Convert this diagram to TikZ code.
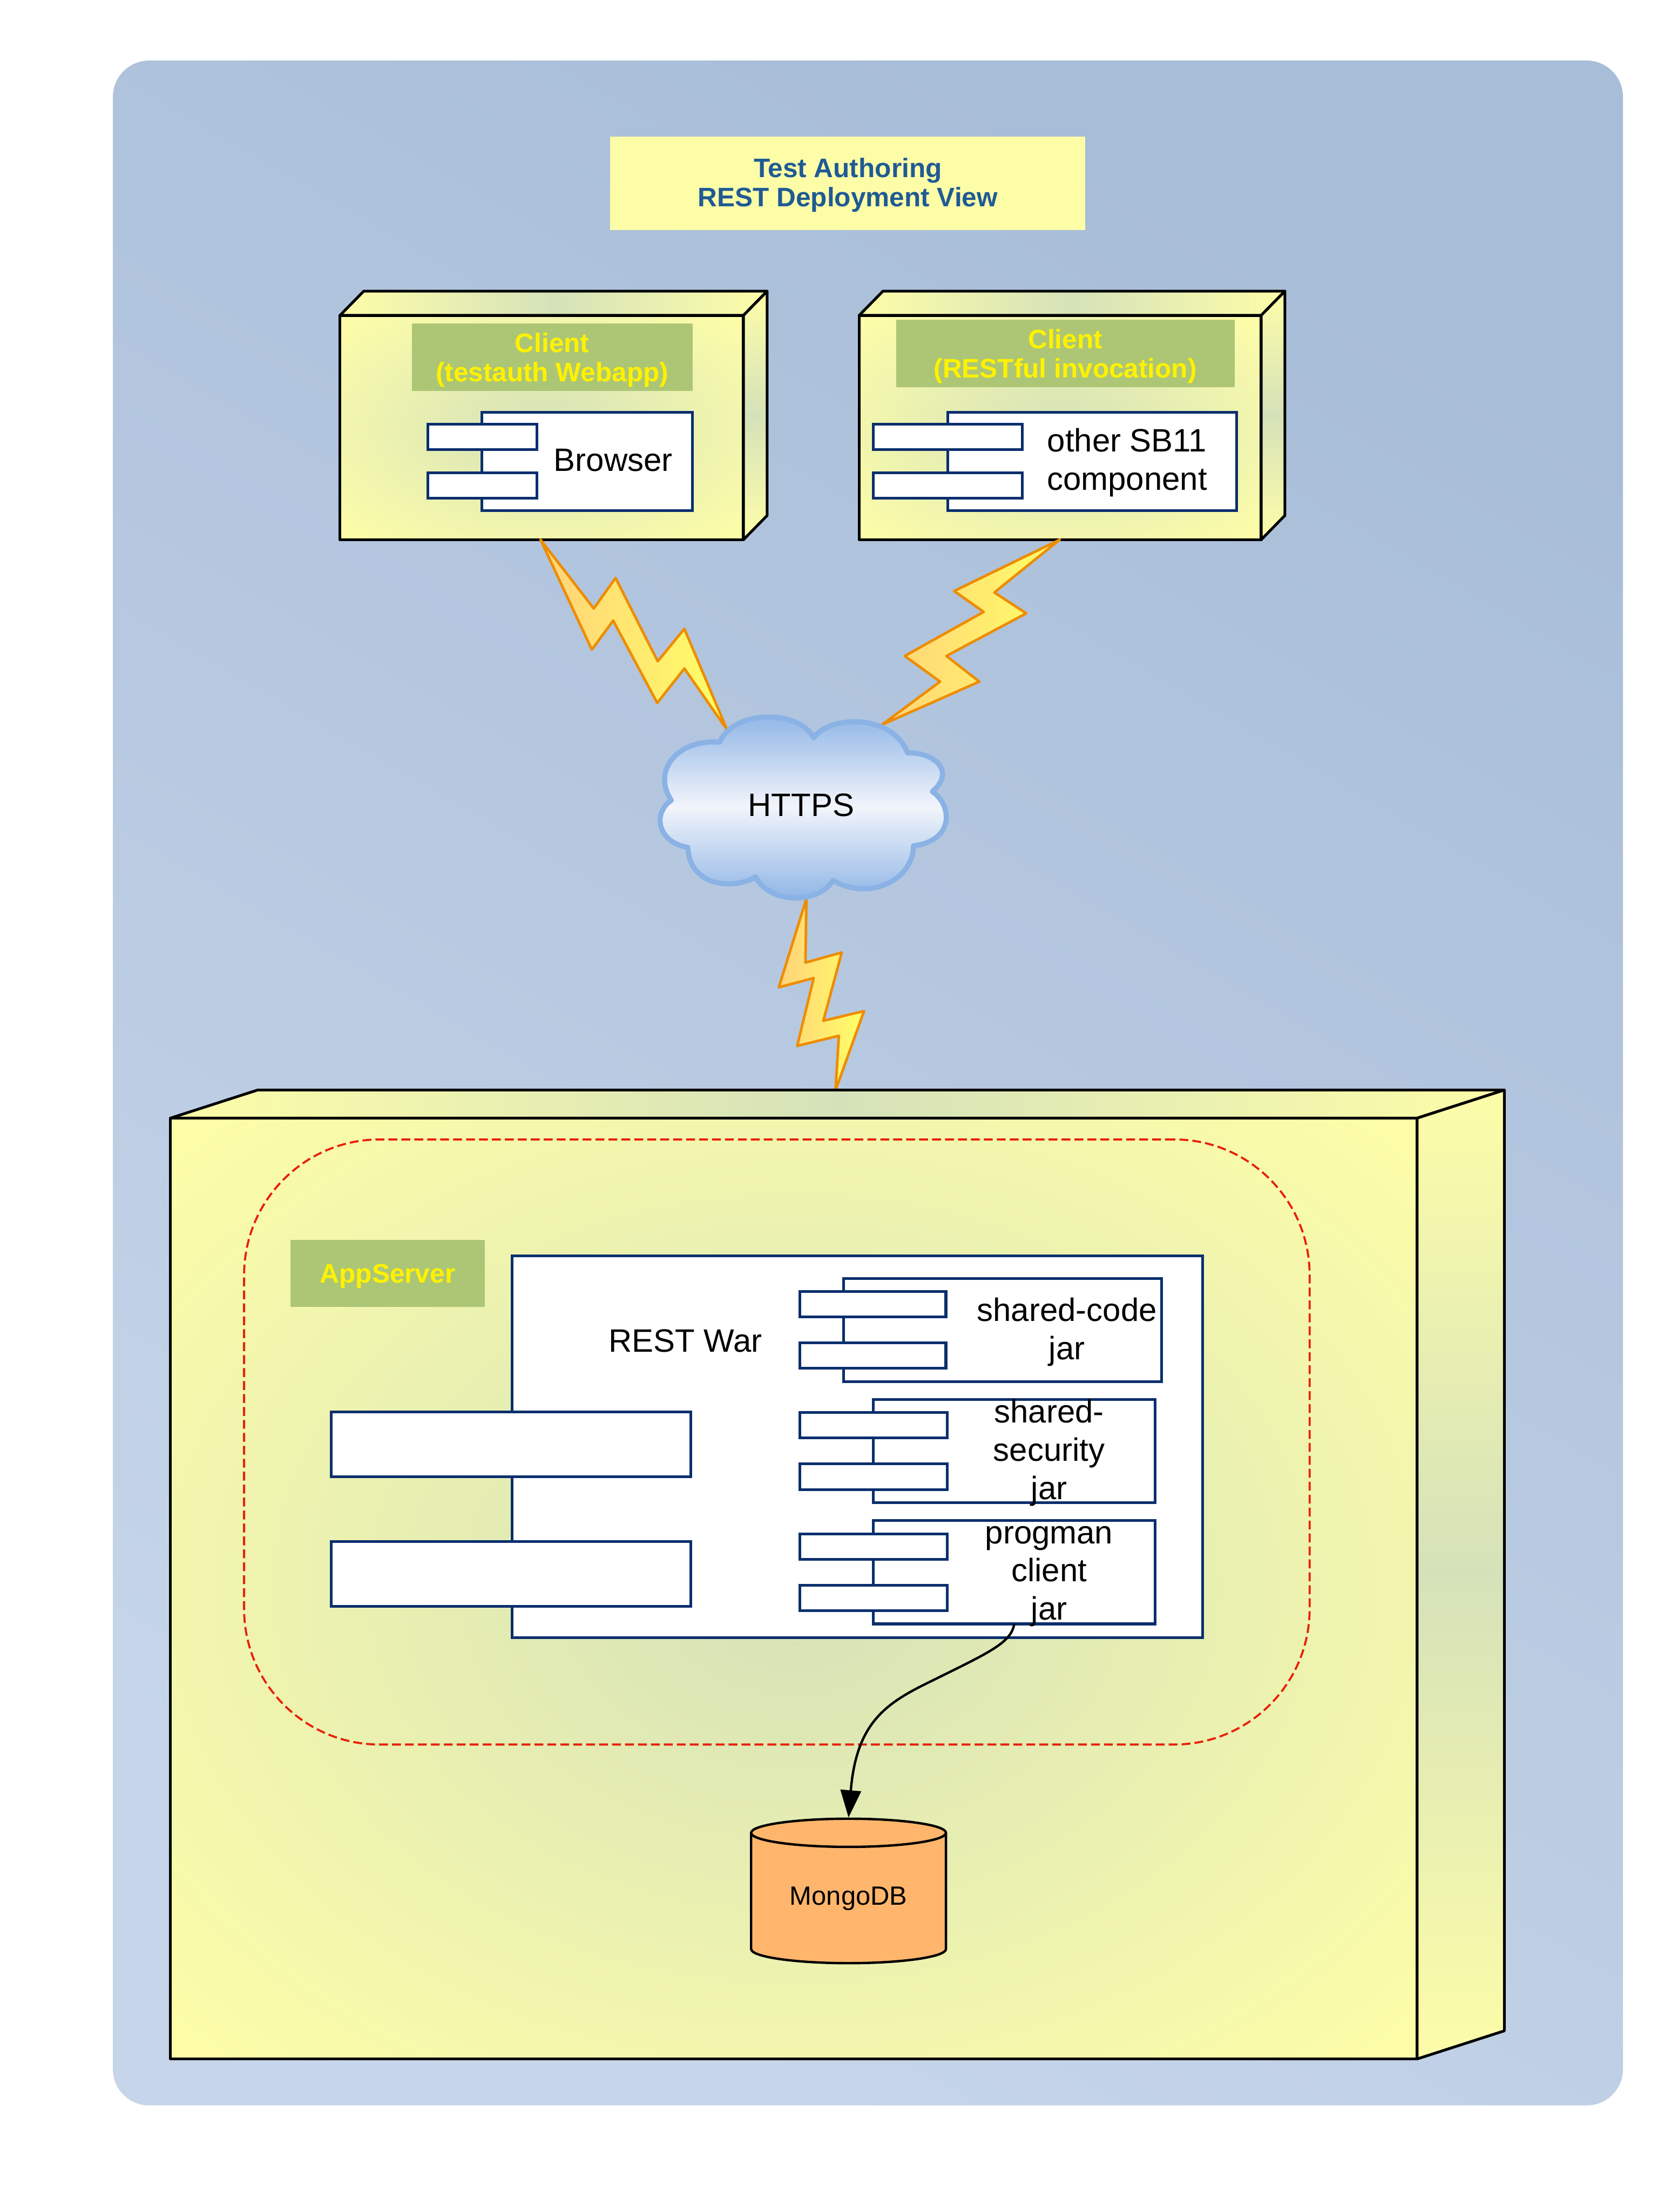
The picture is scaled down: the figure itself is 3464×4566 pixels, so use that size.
\documentclass[tikz,border=0pt]{standalone}
\usepackage{xcolor}
\usepackage{fontspec}
\setmainfont{Liberation Sans}
\usepackage{tikz}
\usetikzlibrary{calc, fit, shapes.geometric, arrows.meta}
\definecolor{panellight}{HTML}{C6D5E9}
\definecolor{paneldark}{HTML}{A8BDD8}
\definecolor{nodeyellow}{HTML}{FDFDA8}
\definecolor{nodegreen}{HTML}{D5E2B9}
\definecolor{labelgreen}{HTML}{ADC675}
\definecolor{titleblue}{HTML}{1F5A94}
\definecolor{boxnavy}{HTML}{0B2F6D}
\definecolor{boltedge}{HTML}{EE8C00}
\definecolor{boltorange}{HTML}{FFD27A}
\definecolor{boltyellow}{HTML}{FFFF66}
\definecolor{cloudedge}{HTML}{8AB2E5}
\definecolor{cloudmid}{HTML}{F2F5FB}
\definecolor{dashred}{HTML}{E8200A}
\definecolor{dborange}{HTML}{FFB66C}
\newcommand{\fsBody}{\fontsize{19}{22.5}\selectfont}
\newcommand{\fsLabel}{\fontsize{15.7}{17.2}\selectfont\bfseries}
\newcommand{\fsDb}{\fontsize{15.5}{18}\selectfont}
\pgfdeclareradialshading{nodeglow}{\pgfpointorigin}{%
  color(0bp)=(nodegreen); color(34bp)=(nodeyellow); color(50bp)=(nodeyellow)}
\tikzset{
  fitbox/.style={inner sep=0pt, outer sep=0pt},
  panelbox/.style={fitbox, rounded corners=0.75cm, bottom color=panellight, top color=paneldark, shading angle=-30},
  titlebox/.style={fitbox, fill=nodeyellow},
  tagbox/.style={fitbox, fill=labelgreen},
  titletext/.style={font=\fsLabel, text=titleblue, align=center, inner sep=0pt, yshift=-1pt},
  tagtext/.style={font=\fsLabel, text=yellow, align=center, inner sep=0pt, yshift=-1.7pt},
  facebox/.style={fitbox, draw=black, line width=1.6pt, line join=round, shading=nodeglow},
  topface/.style={draw=black, line width=1.6pt, line join=round, left color=nodeyellow, right color=nodeyellow, middle color=nodegreen},
  sideface/.style={draw=black, line width=1.6pt, line join=round, top color=nodeyellow, bottom color=nodeyellow, middle color=nodegreen},
  compbox/.style={fitbox, draw=boxnavy, fill=white, line width=1.6pt},
  bodytext/.style={font=\fsBody, text=black, align=center, inner sep=0pt},
  bolt/.style={draw=boltedge, line width=1.5pt, line join=round, left color=boltorange, right color=boltyellow},
  serverzone/.style={fitbox, draw=dashred, line width=1.2pt, rounded corners=2.8cm, dash pattern=on 5.2pt off 2.4pt},
  dbarrow/.style={draw=black, line width=1.4pt, -{Triangle[length=16pt, width=12pt]}},
}
\begin{document}
\begin{tikzpicture}[x=0.01cm, y=-0.01cm]
  \useasboundingbox (0,0) rectangle (3464,4566);
  \def\TabH{52.5}
  \newcommand{\deployNode}[7]{%
    \node[facebox, fit={(#2,#3) (#4,#5)}] (#1) {};
    \path[topface] (#1.north west) -- ++(#6,-#7) -- ++($(#4,0)-(#2,0)$) -- (#1.north east) -- cycle;
    \path[sideface] (#1.north east) -- ++(#6,-#7) -- ++($(0,#5)-(0,#3)$) -- (#1.south east) -- cycle;
  }
  \newcommand{\compBox}[9]{%
    \node[compbox, fit={(#2,#3) (#4,#5)}] (#1) {};
    \node[compbox, fit={(#6,#8) (#7,#8+\TabH)}] (#1TabA) {};
    \node[compbox, fit={(#6,#9) (#7,#9+\TabH)}] (#1TabB) {};
  }

  \node[panelbox, fit={(233,125) (3351,4346)}] (panel) {};
  \node[titlebox, fit={(1260,282) (2241,475)}] (title) {};
  \node[titletext] (titleText) at (title) {Test Authoring\\REST Deployment View};

  \deployNode{clientWeb}{702}{651}{1535}{1114}{49}{50}
  \deployNode{clientRest}{1774}{651}{2604}{1114}{49}{50}
  \node[tagbox, fit={(850,668) (1430,807)}] (clientWebTag) {};
  \node[tagtext] (clientWebText) at (clientWebTag) {Client\\(testauth Webapp)};
  \node[tagbox, fit={(1850,660) (2549,799)}] (clientRestTag) {};
  \node[tagtext] (clientRestText) at (clientRestTag) {Client\\(RESTful invocation)};
  \compBox{browser}{995}{851}{1430}{1054}{883}{1109}{876}{976}
  \compBox{otherComp}{1957}{851}{2553}{1054}{1803}{2111}{876}{976}
  \node[bodytext] (browserText) at (1266,950) {Browser};
  \node[bodytext] (otherCompText) at (2327,955) {other SB11\\component};

  \path[bolt] (1116,1114) -- (1226,1256) -- (1271,1193) -- (1358,1365) -- (1413,1298) -- (1501,1506)
    -- (1413,1380) -- (1357,1451) -- (1266,1281) -- (1222,1341) -- cycle;
  \path[bolt] (2188,1114) -- (2053,1223) -- (2119,1266) -- (1954,1354) -- (2022,1407) -- (1821,1496)
    -- (1941,1407) -- (1868,1354) -- (2031,1263) -- (1970,1220) -- cycle;
  \path[bolt] (1665,1855) -- (1663,1987) -- (1738,1966) -- (1700,2107) -- (1784,2087) -- (1725,2251)
    -- (1732,2138) -- (1646,2159) -- (1680,2019) -- (1608,2038) -- cycle;

  \path[draw=cloudedge, line width=3pt, line join=round, top color=cloudedge, bottom color=cloudedge, middle color=cloudmid]
    (1486,1532) .. controls (1515,1464) and (1650,1464) .. (1680,1523)
    .. controls (1710,1478) and (1840,1470) .. (1874,1554)
    .. controls (1925,1552) and (1976,1590) .. (1925,1634)
    .. controls (1965,1660) and (1973,1735) .. (1886,1746)
    .. controls (1885,1820) and (1790,1860) .. (1720,1817)
    .. controls (1690,1867) and (1590,1867) .. (1560,1810)
    .. controls (1520,1835) and (1425,1835) .. (1420,1749)
    .. controls (1360,1740) and (1345,1680) .. (1386,1652)
    .. controls (1345,1590) and (1400,1525) .. (1486,1532) -- cycle;
  \node[bodytext] (httpsText) at (1654,1662) {HTTPS};

  \deployNode{appNode}{352}{2308}{2926}{4250}{180}{58}
  \node[serverzone, fit={(504,2352) (2704,3601)}] (restZone) {};
  \node[tagbox, fit={(600,2559) (1001,2698)}] (appServerTag) {};
  \node[tagtext] (appServerText) at (appServerTag) {AppServer};

  \def\TabH{134}
  \compBox{restWar}{1057}{2592}{2483}{3380}{684}{1426}{2914}{3182}
  \def\TabH{52.5}
  \compBox{sharedCode}{1742}{2639}{2398}{2852}{1652}{1953}{2666}{2772}
  \compBox{sharedSec}{1803}{2889}{2385}{3102}{1652}{1956}{2916}{3022}
  \compBox{progman}{1803}{3139}{2385}{3352}{1652}{1956}{3166}{3272}
  \node[bodytext] (restWarText) at (1415,2768) {REST War};
  \node[bodytext] (sharedCodeText) at (2203,2750) {shared-code\\jar};
  \node[bodytext] (sharedSecText) at (2166,2999) {shared-\\security\\jar};
  \node[bodytext] (progmanText) at (2166,3254) {progman\\client\\jar};

  \node[cylinder, shape border rotate=90, aspect=0.24, draw=black, fill=dborange, line width=1.4pt,
    minimum width=4.02cm, minimum height=2.98cm, inner sep=0pt, font=\fsDb] (mongoDB) at (1752,3919) {MongoDB};
  \coordinate (arrowBend) at (1915,3474);
  \draw[dbarrow] (progman.south) .. controls (2088,3392) and (2040,3412) .. (arrowBend)
    .. controls (1825,3518) and (1768,3560) .. (mongoDB.north);
\end{tikzpicture}
\end{document}
